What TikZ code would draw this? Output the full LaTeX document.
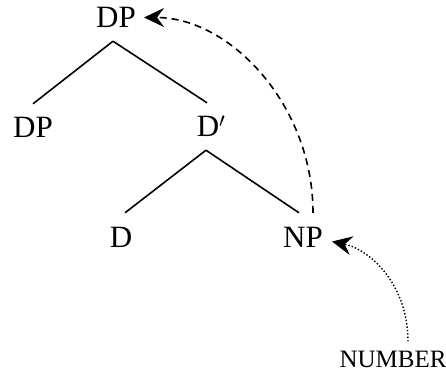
\documentclass[tikz,border=0pt]{standalone}
\usepackage{fontspec}
\setmainfont{Liberation Serif}
\usetikzlibrary{arrows.meta}
\begin{document}
\begin{tikzpicture}[x=1pt,y=-1pt,
  lab/.style={inner xsep=0pt,inner ysep=13pt,text height=21pt,text depth=0pt,anchor=base,font=\fontsize{31}{36}\selectfont},
  small/.style={inner sep=0pt,anchor=base,font=\fontsize{25}{28}\selectfont},
  branch/.style={line width=1.6pt},
  arrowtip/.style={-{Stealth[length=20pt,width=19pt,inset=7pt]}}]
\useasboundingbox (0,0) rectangle (446,371);
\node[lab] (dp) at (116,28) {DP};
\node[lab] (spec) at (33,138) {DP};
\node[lab] (dbar) at (208,137) {D\rlap{$'$}};
\node[lab] (d) at (121,247) {D};
\node[lab] (np) at (303,247) {NP};
\node[small] (num) at (393,367) {NUMBER};
\draw[branch] ([xshift=-3pt]dp.south) -- (spec.north);
\draw[branch] ([xshift=-3pt]dp.south) -- ([xshift=-1pt]dbar.north);
\draw[branch] ([xshift=-2pt]dbar.south) -- ([xshift=4pt]d.north);
\draw[branch] ([xshift=-2pt]dbar.south) -- ([xshift=-4pt]np.north);
\draw[arrowtip,line width=1.6pt,dash pattern=on 7pt off 5pt]
  ([xshift=10pt]np.north) .. controls ([xshift=10pt,yshift=108pt]np.north) and ([xshift=94pt]dp.east) .. ([xshift=8pt]dp.east);
\draw[arrowtip,line width=1.4pt,dotted]
  ([xshift=15pt,yshift=9pt]num.north) .. controls ([xshift=15pt,yshift=66pt]num.north) and ([xshift=47pt,yshift=-13pt]np.east) .. ([xshift=9pt,yshift=-5pt]np.east);
\end{tikzpicture}
\end{document}
